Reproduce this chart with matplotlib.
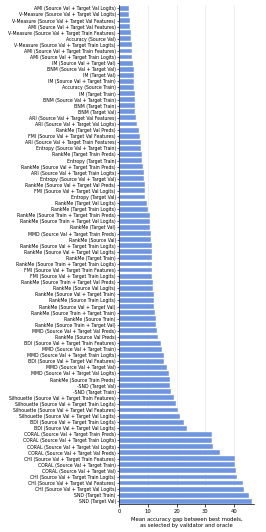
import matplotlib
matplotlib.use("Agg")
import matplotlib.pyplot as plt

validators = [
    'AMI (Source Val + Target Val Logits)',
    'V-Measure (Source Val + Target Val Logits)',
    'V-Measure (Source Val + Target Val Features)',
    'AMI (Source Val + Target Val Features)',
    'V-Measure (Source Val + Target Train Features)',
    'Accuracy (Source Val)',
    'V-Measure (Source Val + Target Train Logits)',
    'AMI (Source Val + Target Train Features)',
    'AMI (Source Val + Target Train Logits)',
    'IM (Source Val + Target Val)',
    'BNM (Source Val + Target Val)',
    'IM (Target Val)',
    'IM (Source Val + Target Train)',
    'Accuracy (Source Train)',
    'IM (Target Train)',
    'BNM (Source Val + Target Train)',
    'BNM (Target Train)',
    'BNM (Target Val)',
    'ARI (Source Val + Target Val Features)',
    'ARI (Source Val + Target Val Logits)',
    'RankMe (Target Val Preds)',
    'FMI (Source Val + Target Val Features)',
    'ARI (Source Val + Target Train Features)',
    'Entropy (Source Val + Target Train)',
    'RankMe (Target Train Preds)',
    'Entropy (Target Train)',
    'RankMe (Source Val + Target Train Preds)',
    'ARI (Source Val + Target Train Logits)',
    'Entropy (Source Val + Target Val)',
    'RankMe (Source Val + Target Val Preds)',
    'FMI (Source Val + Target Val Logits)',
    'Entropy (Target Val)',
    'RankMe (Target Val Logits)',
    'RankMe (Target Train Logits)',
    'RankMe (Source Train + Target Train Preds)',
    'RankMe (Source Train + Target Val Logits)',
    'RankMe (Target Val)',
    'MMD (Source Val + Target Train Preds)',
    'RankMe (Source Val)',
    'RankMe (Source Val + Target Train Logits)',
    'RankMe (Source Val + Target Val Logits)',
    'RankMe (Target Train)',
    'RankMe (Source Train + Target Train Logits)',
    'FMI (Source Val + Target Train Features)',
    'FMI (Source Val + Target Train Logits)',
    'RankMe (Source Train + Target Val Preds)',
    'RankMe (Source Val Logits)',
    'RankMe (Source Val + Target Train)',
    'RankMe (Source Train Logits)',
    'RankMe (Source Val + Target Val)',
    'RankMe (Source Train + Target Train)',
    'RankMe (Source Train)',
    'RankMe (Source Train + Target Val)',
    'MMD (Source Val + Target Val Preds)',
    'RankMe (Source Val Preds)',
    'BDI (Source Val + Target Train Features)',
    'MMD (Source Val + Target Train)',
    'MMD (Source Val + Target Train Logits)',
    'BDI (Source Val + Target Val Features)',
    'MMD (Source Val + Target Val)',
    'MMD (Source Val + Target Val Logits)',
    'RankMe (Source Train Preds)',
    '-SND (Target Val)',
    '-SND (Target Train)',
    'Silhouette (Source Val + Target Train Features)',
    'Silhouette (Source Val + Target Train Logits)',
    'Silhouette (Source Val + Target Val Features)',
    'Silhouette (Source Val + Target Val Logits)',
    'BDI (Source Val + Target Train Logits)',
    'BDI (Source Val + Target Val Logits)',
    'CORAL (Source Val + Target Train Preds)',
    'CORAL (Source Val + Target Train Logits)',
    'CORAL (Source Val + Target Val Logits)',
    'CORAL (Source Val + Target Val Preds)',
    'CHI (Source Val + Target Train Features)',
    'CORAL (Source Val + Target Train)',
    'CORAL (Source Val + Target Val)',
    'CHI (Source Val + Target Train Logits)',
    'CHI (Source Val + Target Val Features)',
    'CHI (Source Val + Target Val Logits)',
    'SND (Target Train)',
    'SND (Target Val)',
]

mean_gap = [
    3.5, 3.5, 3.6, 3.7, 4.1, 4.2, 4.3,
    4.3, 4.4, 4.8, 5.0, 5.1, 5.1, 5.2,
    5.3, 5.4, 5.5, 5.6, 5.9, 6.0, 7.0, 7.3,
    7.4, 7.5, 7.8, 7.9, 8.3, 8.6, 8.6,
    8.8, 8.9, 9.1, 9.7, 10.1, 10.6, 10.8,
    10.8, 10.9, 11.0, 11.2, 11.3, 11.3, 11.4,
    11.4, 11.5, 11.6, 11.8, 11.9, 12.1, 12.2,
    12.3, 12.8, 12.9, 13.2, 13.5, 14.4, 14.9, 15.6,
    15.6, 16.6, 17.3, 17.5, 17.6, 18.1, 18.9,
    19.6, 20.6, 21.3, 22.7, 23.6, 32.3, 32.3,
    32.5, 35.0, 40.2, 40.4, 40.6, 41.2, 43.2,
    43.5, 45.2, 46.3,
]

fig, ax = plt.subplots(figsize=(2.66, 5.32), dpi=100)
ax.barh(range(len(validators)), mean_gap, height=0.8,
        color='#6f94e0', edgecolor='white', linewidth=0.3, zorder=2)
ax.set_yticks(range(len(validators)))
ax.set_yticklabels(validators, fontsize=3.35)
ax.set_ylim(len(validators) - 0.5, -0.5)
ax.set_xlim(0, 47)
ax.set_xticks([0, 10, 20, 30, 40])
ax.tick_params(axis='x', labelsize=3.8, length=2, width=0.5, pad=1.5)
ax.tick_params(axis='y', length=1.5, width=0.4, pad=1)
ax.grid(axis='x', color='#e6e6e6', linewidth=0.5, zorder=0)
ax.spines['top'].set_visible(False)
ax.spines['right'].set_visible(False)
ax.spines['left'].set_linewidth(0.5)
ax.spines['bottom'].set_linewidth(0.5)
ax.set_xlabel('Mean accuracy gap between best models,\nas selected by validator and oracle',
              fontsize=3.8, labelpad=2)

fig.subplots_adjust(left=0.449, right=0.955, top=0.99, bottom=0.052)
fig.savefig('out.png', dpi=100)
